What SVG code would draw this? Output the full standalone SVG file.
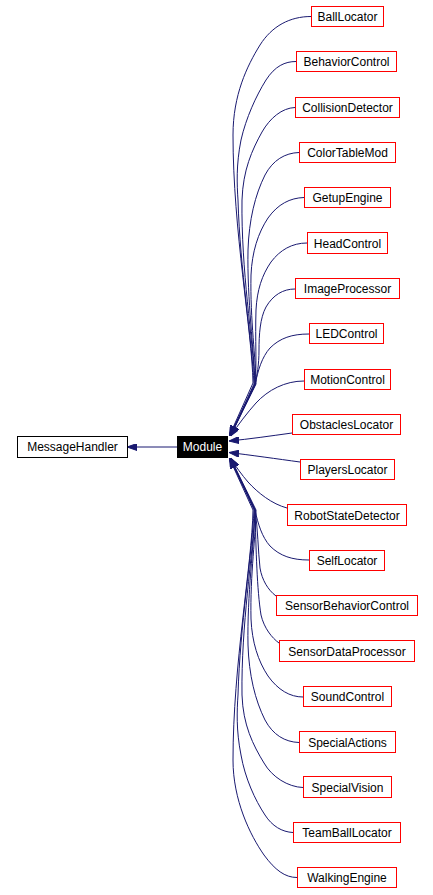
<svg xmlns="http://www.w3.org/2000/svg" width="433" height="895" viewBox="0 0 433 895">
<style>
.n rect{fill:#fff;stroke:#ff0000;stroke-width:1}
.n text{font-family:"Liberation Sans",Arial,sans-serif;font-size:12px;fill:#000;text-anchor:middle}
#MessageHandler rect{stroke:#000}
#Module rect{fill:#000;stroke:#000}
#Module text{fill:#fff}
.e path{fill:none;stroke:#191970;stroke-width:1;marker-end:url(#ah)}
</style>
<defs>
<marker id="ah" markerUnits="userSpaceOnUse" markerWidth="10" markerHeight="7" refX="10" refY="3.5" orient="auto">
<path d="M0,0 L10,3.5 L0,7 z" fill="#191970" stroke="#191970" stroke-width="1"/>
</marker>
</defs>
<rect width="433" height="895" fill="#fff"/>
<g class="e" id="connectors">
<path d="M177,447 L127,447"/>
<path d="M311,16.5 C290,16.5 272,26 260,45 C247,66 233,95 233,135 C233,230 252,330 253,383 L229.5,435.5"/>
<path d="M296,61.5 C285,61.5 275,66 266,80 C256,96 246,118 241,140 C236,165 237,185 238,200 C240,270 252,340 254,384 L230,436"/>
<path d="M295,107.5 C282,108 270,118 262,132 C252,150 243,170 242,200 C241,270 253,340 255,384 L230.5,436"/>
<path d="M299,152.5 C285,153 273,160 265,175 C255,195 249,220 248,250 C247,300 254,350 255,384 L230,436"/>
<path d="M304,197.5 C290,198 278,204 268,218 C258,233 252,252 251,275 C250,320 256,360 256,384 L230.5,436"/>
<path d="M307,243 C292,243 280,250 271,262 C262,275 257,290 256,310 C255,340 257,365 255,384 L230,436"/>
<path d="M295,289 C283,289 273,295 266,307 C260,318 259,335 259,350 C259,365 257,375 255,385 L230,436"/>
<path d="M309,334 C292,334 280,338 270,348 C262,357 258,370 255,385 L230,436"/>
<path d="M304,381 C285,381 268,390 256,403 C247,413 238,425 230.5,436"/>
<path d="M292,433 C270,436 250,439 229,441"/>
<path d="M300,462 C278,459 250,455 229,452.5"/>
<path d="M287,508 C272,504 258,493 248,482 C242,475 236,467 230.5,458"/>
<path d="M309,560 C292,560 280,556 270,546 C262,537 258,524 255,510 L230,458"/>
<path d="M276,596 C268,590 262,580 260,568 C258,550 258,530 255,510 L230,458"/>
<path d="M279,643 C272,638 264,628 261,615 C257,590 256,550 255,510 L230,458"/>
<path d="M303,697 C290,697 278,690 268,676 C258,661 252,642 251,619 C250,574 256,534 256,510 L230.5,458"/>
<path d="M299,742.5 C285,742 273,735 265,720 C255,700 249,675 248,645 C247,595 254,545 255,510 L230,458"/>
<path d="M303,787.5 C288,787 272,777 264,763 C253,745 243,725 242,695 C241,625 253,555 255,510 L230.5,458"/>
<path d="M293,832.5 C282,832 272,826 265,815 C255,800 245,778 241,755 C236,730 237,710 238,695 C240,625 252,555 254,510 L230,458"/>
<path d="M297,877.5 C285,877.5 275,870 264,855 C250,835 233,800 233,760 C233,665 252,565 253,510 L229.5,458.5"/>
</g>
<g class="n" id="MessageHandler"><rect x="17.5" y="436.5" width="110" height="21"/><text x="72.5" y="451">MessageHandler</text></g>
<g class="n" id="Module"><rect x="177.5" y="436.5" width="50" height="21"/><text x="202.5" y="451">Module</text></g>
<g class="n" id="BallLocator"><rect x="311.5" y="6.5" width="72" height="20"/><text x="347.5" y="21">BallLocator</text></g>
<g class="n" id="BehaviorControl"><rect x="296.5" y="51.5" width="100" height="20"/><text x="346.5" y="66">BehaviorControl</text></g>
<g class="n" id="CollisionDetector"><rect x="295.5" y="97.5" width="104" height="20"/><text x="347.5" y="112">CollisionDetector</text></g>
<g class="n" id="ColorTableMod"><rect x="299.5" y="142.5" width="96" height="20"/><text x="347.5" y="157">ColorTableMod</text></g>
<g class="n" id="GetupEngine"><rect x="304.5" y="187.5" width="86" height="20"/><text x="347.5" y="202">GetupEngine</text></g>
<g class="n" id="HeadControl"><rect x="307.5" y="232.5" width="80" height="21"/><text x="347.5" y="247.5">HeadControl</text></g>
<g class="n" id="ImageProcessor"><rect x="295.5" y="278.5" width="104" height="20"/><text x="347.5" y="293">ImageProcessor</text></g>
<g class="n" id="LEDControl"><rect x="309.5" y="323.5" width="74" height="20"/><text x="346.5" y="338">LEDControl</text></g>
<g class="n" id="MotionControl"><rect x="304.5" y="369.5" width="86" height="20"/><text x="347.5" y="384">MotionControl</text></g>
<g class="n" id="ObstaclesLocator"><rect x="292.5" y="414.5" width="108" height="20"/><text x="346.5" y="429">ObstaclesLocator</text></g>
<g class="n" id="PlayersLocator"><rect x="300.5" y="459.5" width="94" height="20"/><text x="347.5" y="474">PlayersLocator</text></g>
<g class="n" id="RobotStateDetector"><rect x="287.5" y="504.5" width="119" height="21"/><text x="347" y="519.5">RobotStateDetector</text></g>
<g class="n" id="SelfLocator"><rect x="309.5" y="550.5" width="75" height="20"/><text x="347" y="565">SelfLocator</text></g>
<g class="n" id="SensorBehaviorControl"><rect x="276.5" y="595.5" width="141" height="20"/><text x="347" y="610">SensorBehaviorControl</text></g>
<g class="n" id="SensorDataProcessor"><rect x="279.5" y="640.5" width="135" height="21"/><text x="347" y="655.5">SensorDataProcessor</text></g>
<g class="n" id="SoundControl"><rect x="303.5" y="686.5" width="88" height="20"/><text x="347.5" y="701">SoundControl</text></g>
<g class="n" id="SpecialActions"><rect x="299.5" y="731.5" width="96" height="21"/><text x="347.5" y="746.5">SpecialActions</text></g>
<g class="n" id="SpecialVision"><rect x="303.5" y="776.5" width="88" height="21"/><text x="347.5" y="791.5">SpecialVision</text></g>
<g class="n" id="TeamBallLocator"><rect x="293.5" y="822.5" width="107" height="20"/><text x="347" y="837">TeamBallLocator</text></g>
<g class="n" id="WalkingEngine"><rect x="297.5" y="867.5" width="99" height="20"/><text x="347" y="882">WalkingEngine</text></g>
</svg>
